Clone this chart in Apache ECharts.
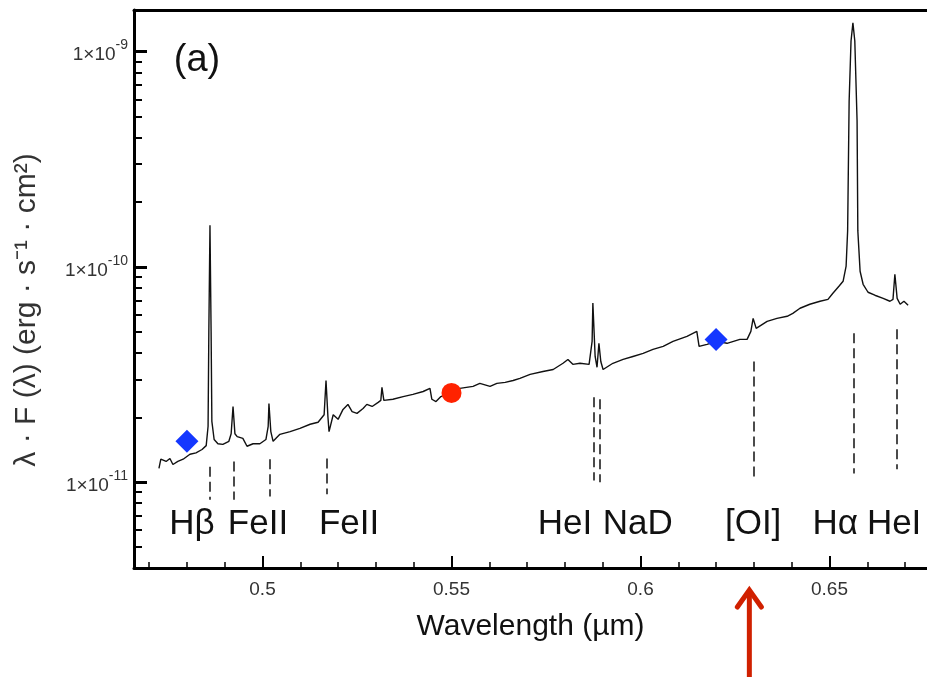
<!DOCTYPE html>
<html>
<head>
<meta charset="utf-8">
<script src="https://cdn.jsdelivr.net/npm/echarts@6/dist/echarts.min.js"></script>
<style>
    html, body { margin: 0; padding: 0; background: #fff; }
    #chart { width: 927px; height: 677px; }
</style>
</head>
<body>
<div id="chart"></div>
<script>
// spectrum, wavelength in um, lambda*F in erg s-1 cm-2
const wave = [
    0.4726, 0.4731, 0.4745, 0.4755, 0.4763, 0.4776, 0.4790, 0.4808, 0.4824, 0.4840,
    0.4851, 0.4856, 0.4858, 0.4861, 0.4864, 0.4866, 0.4872, 0.4882, 0.4895, 0.4911,
    0.4917, 0.4922, 0.4927, 0.4933, 0.4948, 0.4959, 0.4975, 0.4993, 0.5009, 0.5015,
    0.5017, 0.5022, 0.5028, 0.5046, 0.5073, 0.5099, 0.5126, 0.5147, 0.5163, 0.5168,
    0.5173, 0.5176, 0.5187, 0.5200, 0.5213, 0.5226, 0.5237, 0.5250, 0.5266, 0.5276,
    0.5290, 0.5306, 0.5313, 0.5316, 0.5321, 0.5345, 0.5372, 0.5398, 0.5425, 0.5443,
    0.5448, 0.5459, 0.5472, 0.5496, 0.5522, 0.5557, 0.5575, 0.5602, 0.5620, 0.5642,
    0.5663, 0.5681, 0.5708, 0.5742, 0.5769, 0.5795, 0.5808, 0.5821, 0.5840, 0.5864,
    0.5872, 0.5874, 0.5880, 0.5885, 0.5890, 0.5895, 0.5901, 0.5927, 0.5954, 0.5980,
    0.6007, 0.6033, 0.6060, 0.6086, 0.6123, 0.6149, 0.6155, 0.6176, 0.6202, 0.6229,
    0.6263, 0.6282, 0.6292, 0.6298, 0.6306, 0.6335, 0.6361, 0.6388, 0.6403, 0.6422,
    0.6448, 0.6475, 0.6496, 0.6509, 0.6525, 0.6536, 0.6544, 0.6548, 0.6552, 0.6557,
    0.6562, 0.6567, 0.6573, 0.6575, 0.6581, 0.6589, 0.6602, 0.6620, 0.6642, 0.6660,
    0.6668, 0.6673, 0.6679, 0.6687, 0.6697, 0.6708
];
const flux = [
    1.16e-11, 1.28e-11, 1.25e-11, 1.29e-11, 1.21e-11, 1.25e-11, 1.28e-11, 1.35e-11, 1.37e-11, 1.42e-11,
    1.48e-11, 1.82e-11, 5.02e-11, 1.56e-10, 5.02e-11, 1.92e-11, 1.58e-11, 1.51e-11, 1.50e-11, 1.55e-11,
    1.68e-11, 2.25e-11, 1.68e-11, 1.63e-11, 1.60e-11, 1.47e-11, 1.51e-11, 1.51e-11, 1.58e-11, 1.82e-11,
    2.32e-11, 1.72e-11, 1.55e-11, 1.67e-11, 1.72e-11, 1.78e-11, 1.86e-11, 1.90e-11, 2.06e-11, 2.97e-11,
    2.02e-11, 1.72e-11, 2.06e-11, 1.96e-11, 2.18e-11, 2.30e-11, 2.13e-11, 2.09e-11, 2.20e-11, 2.30e-11,
    2.25e-11, 2.35e-11, 2.40e-11, 2.76e-11, 2.40e-11, 2.43e-11, 2.50e-11, 2.56e-11, 2.64e-11, 2.73e-11,
    2.43e-11, 2.37e-11, 2.50e-11, 2.61e-11, 2.73e-11, 2.79e-11, 2.88e-11, 2.79e-11, 2.88e-11, 2.91e-11,
    2.97e-11, 3.04e-11, 3.17e-11, 3.27e-11, 3.34e-11, 3.57e-11, 3.72e-11, 3.53e-11, 3.57e-11, 3.53e-11,
    4.51e-11, 6.80e-11, 3.84e-11, 3.42e-11, 4.42e-11, 3.64e-11, 3.34e-11, 3.57e-11, 3.72e-11, 3.84e-11,
    3.97e-11, 4.14e-11, 4.28e-11, 4.51e-11, 4.76e-11, 5.02e-11, 4.28e-11, 4.37e-11, 4.51e-11, 4.42e-11,
    4.61e-11, 4.61e-11, 5.02e-11, 5.77e-11, 5.19e-11, 5.59e-11, 5.77e-11, 5.90e-11, 6.09e-11, 6.43e-11,
    6.71e-11, 6.93e-11, 7.07e-11, 7.55e-11, 8.13e-11, 8.58e-11, 1.01e-10, 1.47e-10, 5.90e-10, 1.12e-9,
    1.36e-9, 1.12e-9, 4.76e-10, 1.47e-10, 9.55e-11, 8.31e-11, 7.63e-11, 7.39e-11, 7.15e-11, 6.93e-11,
    7.07e-11, 9.25e-11, 7.15e-11, 6.71e-11, 6.93e-11, 6.64e-11
];

// line identification ticks (dashed) and their labels
const lineWaves = [0.4861, 0.4924, 0.5018, 0.5169, 0.5876, 0.5893, 0.6300, 0.6563, 0.6678];
const lineTop = [1.18e-11, 1.25e-11, 1.28e-11, 1.29e-11, 2.48e-11, 2.43e-11, 3.64e-11, 4.92e-11, 5.13e-11];
const lineBottom = [8.3e-12, 8.3e-12, 8.6e-12, 8.8e-12, 1.02e-11, 1.00e-11, 1.06e-11, 1.10e-11, 1.15e-11];

const labelNames = ['Hβ', 'FeII', 'FeII', 'HeI', 'NaD', '[OI]', 'Hα', 'HeI'];
const labelWaves = [0.4813, 0.4988, 0.5229, 0.5800, 0.5993, 0.6298, 0.6515, 0.6671];
const labelFlux = [6.4e-12, 6.4e-12, 6.4e-12, 6.4e-12, 6.4e-12, 6.4e-12, 6.4e-12, 6.4e-12];

// photometric points
const blueWaves = [0.48, 0.62];
const blueFlux = [1.55e-11, 4.6e-11];
const redWaves = [0.55];
const redFlux = [2.6e-11];

const arrowWave = 0.6288;

// axis ticks
const xMajor = [0.5, 0.55, 0.6, 0.65];
const xMinor = [0.47, 0.48, 0.49, 0.51, 0.52, 0.53, 0.54, 0.56, 0.57, 0.58, 0.59,
    0.61, 0.62, 0.63, 0.64, 0.66, 0.67];
const yMajor = [1e-11, 1e-10, 1e-9];
const yMinor = [4e-12, 5e-12, 6e-12, 7e-12, 8e-12, 9e-12,
    2e-11, 3e-11, 4e-11, 5e-11, 6e-11, 7e-11, 8e-11, 9e-11,
    2e-10, 3e-10, 4e-10, 5e-10, 6e-10, 7e-10, 8e-10, 9e-10];

const X_MIN = 0.466, X_MAX = 0.6758;
const Y_MIN = 4e-12, Y_MAX = 1.56e-9;

const FONT = '"Liberation Sans", Arial, Helvetica, sans-serif';
const TXT = '#111';

const chart = echarts.init(document.getElementById('chart'));

const hiddenX = (extra) => Object.assign({
    type: 'value', min: X_MIN, max: X_MAX,
    axisLine: {show: false, onZero: false},
    axisTick: {show: false},
    axisLabel: {show: false},
    splitLine: {show: false}
}, extra);

const option = {
    animation: false,
    grid: {left: 134, right: 0, top: 10, bottom: 109},
    xAxis: [
        {
            type: 'value', min: X_MIN, max: X_MAX, position: 'bottom',
            axisLine: {onZero: false, lineStyle: {color: '#000', width: 3}},
            axisTick: {inside: true, length: 12, customValues: xMajor, lineStyle: {color: '#000', width: 2}},
            axisLabel: {
                customValues: xMajor, margin: 12, fontSize: 19, color: '#333', fontFamily: FONT,
                formatter: (v) => String(v)
            },
            splitLine: {show: false},
            name: 'Wavelength (µm)', nameLocation: 'middle', nameGap: 44,
            nameTextStyle: {fontSize: 30, color: TXT, fontFamily: FONT}
        },
        hiddenX({
            position: 'bottom',
            axisTick: {show: true, inside: true, length: 6, customValues: xMinor, lineStyle: {color: '#000', width: 1.5}}
        }),
        hiddenX({
            position: 'top',
            axisLine: {show: true, onZero: false, lineStyle: {color: '#000', width: 3}}
        })
    ],
    yAxis: [
        {
            type: 'log', logBase: 10, min: Y_MIN, max: Y_MAX, position: 'left',
            axisLine: {show: true, onZero: false, lineStyle: {color: '#000', width: 3}},
            axisTick: {show: true, inside: true, length: 13, customValues: yMajor, lineStyle: {color: '#000', width: 3}},
            axisLabel: {
                customValues: yMajor, margin: 6, color: '#333', fontFamily: FONT,
                formatter: (v) => '{b|1×10}{s|' + Math.round(Math.log10(v)) + '}',
                rich: {
                    b: {fontSize: 19, color: '#333', fontFamily: FONT, lineHeight: 26, verticalAlign: 'bottom'},
                    s: {fontSize: 14, color: '#333', fontFamily: FONT, lineHeight: 24, verticalAlign: 'top'}
                }
            },
            splitLine: {show: false}
        },
        {
            type: 'log', logBase: 10, min: Y_MIN, max: Y_MAX, position: 'left',
            axisLine: {show: false, onZero: false},
            axisTick: {show: true, inside: true, length: 8, customValues: yMinor, lineStyle: {color: '#000', width: 2}},
            axisLabel: {show: false},
            splitLine: {show: false}
        }
    ],
    series: [
        {
            name: 'spectrum',
            type: 'line',
            xAxisIndex: 0, yAxisIndex: 0,
            data: wave.map((w, i) => [w, flux[i]]),
            showSymbol: false,
            lineStyle: {color: '#111', width: 1.4},
            z: 2,
            markLine: {
                silent: true,
                symbol: ['none', 'none'],
                label: {show: false},
                lineStyle: {color: '#111', width: 1.5, type: [10, 5]},
                data: lineWaves.map((w, i) => [
                    {coord: [w, lineTop[i]]},
                    {coord: [w, lineBottom[i]]}
                ])
            }
        },
        {
            name: 'line ids',
            type: 'scatter',
            xAxisIndex: 0, yAxisIndex: 0,
            symbolSize: 1,
            itemStyle: {color: 'rgba(0,0,0,0)', opacity: 1},
            silent: true,
            data: labelWaves.map((w, i) => ({value: [w, labelFlux[i]], name: labelNames[i]})),
            label: {
                show: true, position: 'inside', formatter: (p) => p.name,
                fontSize: 35, color: TXT, fontFamily: FONT
            }
        },
        {
            name: 'blue',
            type: 'scatter',
            xAxisIndex: 0, yAxisIndex: 0,
            symbol: 'diamond', symbolSize: 23,
            itemStyle: {color: '#1437ff', opacity: 1},
            data: blueWaves.map((w, i) => [w, blueFlux[i]]),
            z: 4
        },
        {
            name: 'red',
            type: 'scatter',
            xAxisIndex: 0, yAxisIndex: 0,
            symbol: 'circle', symbolSize: 20,
            itemStyle: {color: '#ff2200', opacity: 1},
            data: redWaves.map((w, i) => [w, redFlux[i]]),
            z: 4
        }
    ]
};

chart.setOption(option);

// arrow and free texts
const ax = chart.convertToPixel({xAxisIndex: 0}, arrowWave);
const ARROW = '#d02000';
chart.setOption({
    graphic: [
        {
            type: 'text', x: 27, y: 310, rotation: Math.PI / 2,
            style: {
                text: 'λ · F (λ) (erg · s⁻¹ · cm²)', fontSize: 30, fill: '#333', fontFamily: FONT,
                align: 'center', verticalAlign: 'middle'
            }
        },
        {
            type: 'text', x: 197, y: 61,
            style: {text: '(a)', fontSize: 38, fill: TXT, fontFamily: FONT, align: 'center', verticalAlign: 'middle'}
        },
        {
            type: 'line',
            shape: {x1: ax, y1: 591, x2: ax, y2: 677},
            style: {stroke: ARROW, lineWidth: 5}
        },
        {
            type: 'polyline',
            shape: {points: [[ax - 12, 607], [ax, 590], [ax + 12, 607]]},
            style: {stroke: ARROW, lineWidth: 5, fill: null, lineCap: 'round', lineJoin: 'miter'}
        }
    ]
});
</script>
</body>
</html>
